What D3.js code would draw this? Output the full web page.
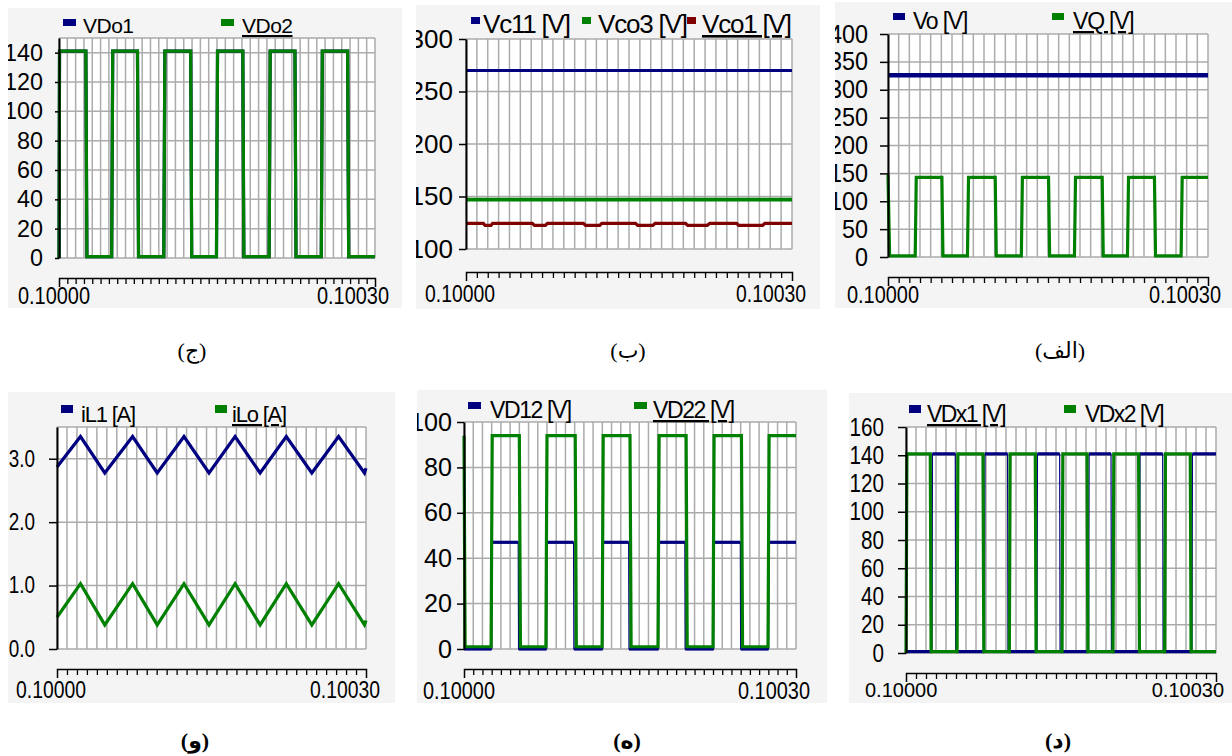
<!DOCTYPE html>
<html>
<head>
<meta charset="utf-8">
<script src="https://cdn.jsdelivr.net/npm/d3@7"></script>
<style>
  body { margin: 0; background: #fff; }
  svg { display: block; }
  text { font-family: "Liberation Sans", Arial, sans-serif; fill: #000; }
  .cap { font-family: "Liberation Serif", "DejaVu Serif", "DejaVu Sans", serif; }
</style>
</head>
<body>
<svg id="fig" width="1232" height="756"></svg>
<script>
// time axis in microseconds after t = 0.1 s
const timeSpan = [0, 300];
const timeLabels = ['0.10000', '0.10030'];

// y tick values
const ticksJ = [0, 20, 40, 60, 80, 100, 120, 140];
const ticksB = [100, 150, 200, 250, 300];
const ticksA = [0, 50, 100, 150, 200, 250, 300, 350, 400];
const ticksW = [0, 1, 2, 3];
const ticksH = [0, 20, 40, 60, 80, 100];
const ticksD = [0, 20, 40, 60, 80, 100, 120, 140, 160];

// (ج) diode voltages
const vdo1 = [[0,0],[0.5,141],[25.5,141],[26.5,1],[50,1],[51,141],[74.5,141],[75.5,1],[99.5,1],[100.5,141],[125,141],[126,1],[149.5,1],[150.5,141],[174.5,141],[175.5,1],[199.5,1],[200.5,141],[224,141],[225,1],[249,1],[250,141],[274,141],[275,1],[300,1]];
const vdo2 = [[0,0],[0.5,141],[25.5,141],[26.5,1],[50,1],[51,141],[74.5,141],[75.5,1],[99.5,1],[100.5,141],[125,141],[126,1],[149.5,1],[150.5,141],[174.5,141],[175.5,1],[199.5,1],[200.5,141],[224,141],[225,1],[249,1],[250,141],[274,141],[275,1],[300,1]];

// (ب) capacitor voltages
const vc11 = [[0,270],[300,270]];
const vco3 = [[0,147],[300,147]];
const vco1 = [[0,124.5],[16,124.5],[17.5,122.5],[23,122.5],[24.5,124.5],[61,124.5],[63,122.5],[73,122.5],[75,124.5],[108,124.5],[110,122.5],[123,122.5],[125,124.5],[156,124.5],[158,122.5],[172,122.5],[174,124.5],[202,124.5],[204,122.5],[222,122.5],[224.5,124.5],[249,124.5],[251,122.5],[273,122.5],[275,124.5],[300,124.5]];

// (الف) output and switch voltage
const vo = [[0,326],[300,326]];
const vq = [[0,148],[1.5,2],[25.5,2],[26.5,143],[50.5,143],[51.5,2],[74.5,2],[75.5,143],[100.5,143],[101.5,2],[125,2],[126,143],[150.5,143],[151.5,2],[174.8,2],[175.8,143],[200.8,143],[201.8,2],[224.5,2],[225.5,143],[249.8,143],[250.8,2],[274.8,2],[275.8,143],[300,143]];

// (و) inductor currents
const il1 = [[0,2.87],[22.8,3.35],[46.4,2.775],[73.4,3.35],[97.3,2.775],[123.3,3.35],[147.6,2.775],[172.9,3.35],[197.2,2.775],[222.6,3.35],[247.4,2.775],[273.4,3.35],[298.5,2.775],[300,2.85]];
const ilo = [[0,0.5],[22.8,1.03],[46.4,0.38],[73.4,1.03],[97.3,0.38],[123.3,1.03],[147.6,0.38],[172.9,1.03],[197.2,0.38],[222.6,1.03],[247.4,0.38],[273.4,1.03],[298.5,0.38],[300,0.45]];

// (ه) diode voltages
const vd12 = [[0,0],[25,0],[25.5,47],[49,47],[49.3,0],[74.6,0],[75.1,47],[99,47],[99.3,0],[125.3,0],[125.8,47],[148.8,47],[149.1,0],[175.8,0],[176.3,47],[199.6,47],[199.9,0],[225.6,0],[226.1,47],[249.7,47],[250,0],[275.2,0],[275.7,47],[300,47]];
const vd22 = [[0,94],[1,1],[24.5,1],[25.5,94],[50,94],[51,1],[74,1],[75,94],[100.5,94],[101.5,1],[124.8,1],[125.8,94],[150,94],[151,1],[175.3,1],[176.3,94],[200.7,94],[201.7,1],[225,1],[226,94],[250.7,94],[251.7,1],[274.7,1],[275.7,94],[300,94]];

// (د) diode voltages
const vdx1 = [[0,1],[25.2,1],[25.6,141],[47.7,141],[48.1,1],[76,1],[76.4,141],[98.3,141],[98.7,1],[126.8,1],[127.2,141],[148.7,141],[149.1,1],[176.8,1],[177.2,141],[198.4,141],[198.8,1],[226.1,1],[226.5,141],[248.4,141],[248.8,1],[276.8,1],[277.2,141],[300,141]];
const vdx2 = [[0,0],[0.9,141],[23.5,141],[24.3,1],[49.4,1],[50.2,141],[74.5,141],[75.3,1],[100,1],[100.8,141],[125.1,141],[125.9,1],[151,1],[151.8,141],[175.2,141],[176,1],[200.3,1],[201.1,141],[225.1,141],[225.9,1],[250.3,1],[251.1,141],[275.1,141],[275.9,1],[300,1]];

const NAVY = '#000080', GREEN = '#008000', MAROON = '#800000';
const GRID = '#ababab';

const panels = [
  { box: [8, 8, 402, 308], plot: [59, 38, 375, 258], yDomain: [0, 150], ticks: ticksJ, fmt: d3.format('d'),
    div: 38, barY: 278, labY: 304, fs: 23, adv: 13, xw: 72, lfs: 21, lls: -0.5, gap: 16, tick: 4, xr: 14,
    leg: { y: 19, h: 7, w: 13, ty: 33 },
    series: [{ name: 'VDo1', data: vdo1, color: NAVY, mx: 63, tx: 83 },
             { name: 'VDo2', data: vdo2, color: GREEN, mx: 221, tx: 242, u: true }],
    caption: '(ج)', cx: 192, cy: 358, bold: false },
  { box: [416, 5, 820, 309], plot: [466, 39, 792, 249], yDomain: [100, 300], ticks: ticksB, fmt: d3.format('d'),
    div: 30, barY: 272, labY: 302, fs: 25, adv: 14.5, xw: 70, lfs: 26, lls: -1.2, gap: 13, tick: 7, xr: 14,
    leg: { y: 17, h: 7, w: 9, ty: 33 },
    series: [{ name: 'Vc11 [V]', data: vc11, color: NAVY, mx: 471, tx: 483 },
             { name: 'Vco3 [V]', data: vco3, color: GREEN, mx: 582, tx: 598, w: 3.8 },
             { name: 'Vco1 [V]', data: vco1, color: MAROON, mx: 687, tx: 702, u: true }],
    caption: '(ب)', cx: 628, cy: 358, bold: false },
  { box: [835, 2, 1232, 308], plot: [888, 34, 1208, 257], yDomain: [0, 400], ticks: ticksA, fmt: d3.format('d'),
    div: 30, barY: 277, labY: 303, fs: 25, adv: 13, xw: 72, lfs: 23, lls: -1.2, gap: 20, tick: 8, xr: 13,
    leg: { y: 13, h: 7, w: 12, ty: 29 },
    series: [{ name: 'Vo [V]', data: vo, color: NAVY, mx: 893, tx: 913, w: 4.5 },
             { name: 'VQ [V]', data: vq, color: GREEN, mx: 1052, tx: 1073, u: true }],
    caption: '(الف)', cx: 1060, cy: 358, bold: false },
  { box: [8, 392, 395, 703], plot: [57, 427, 366, 649], yDomain: [0, 3.5], ticks: ticksW, fmt: d3.format('.1f'),
    div: 31, barY: 669, labY: 698, fs: 23, adv: 10.5, xw: 70, lfs: 22, lls: -1.2, gap: 22, tick: 8, xr: 14,
    leg: { y: 405, h: 8, w: 12, ty: 422 },
    series: [{ name: 'iL1 [A]', data: il1, color: NAVY, mx: 61, tx: 81 },
             { name: 'iLo [A]', data: ilo, color: GREEN, mx: 215, tx: 232, u: true }],
    caption: '(و)', cx: 195, cy: 748, bold: true },
  { box: [417, 390, 827, 703], plot: [464, 422, 796, 649], yDomain: [0, 100], ticks: ticksH, fmt: d3.format('d'),
    div: 36, barY: 669, labY: 699, fs: 25, adv: 14, xw: 72, lfs: 23, lls: -1.4, gap: 12, tick: 7, xr: 14,
    leg: { y: 402, h: 7, w: 13, ty: 418 },
    series: [{ name: 'VD12 [V]', data: vd12, color: NAVY, mx: 468, tx: 490, edge: 1.2 },
             { name: 'VD22 [V]', data: vd22, color: GREEN, mx: 634, tx: 653, u: true }],
    caption: '(ه)', cx: 627, cy: 748, bold: true },
  { box: [849, 393, 1232, 703], plot: [906, 427, 1216, 653], yDomain: [0, 160], ticks: ticksD, fmt: d3.format('d'),
    div: 31, barY: 673, labY: 697, fs: 25, adv: 11.5, xw: 70, xfs: 20, lfs: 23, lls: -1.6, gap: 22, tick: 8, xr: 8,
    leg: { y: 405, h: 8, w: 12, ty: 422 },
    series: [{ name: 'VDx1 [V]', data: vdx1, color: NAVY, mx: 909, tx: 927, u: true, edge: 1.2 },
             { name: 'VDx2 [V]', data: vdx2, color: GREEN, mx: 1064, tx: 1085 }],
    caption: '(د)', cx: 1058, cy: 748, bold: true }
];

// squeezed numeric labels, like the exported plot
const labelWidth = (s, adv) => [...s].reduce((w, c) => w + (c === '.' ? adv * 0.5 : adv), 0);

const svg = d3.select('#fig');
const defs = svg.append('defs');

panels.forEach((p, i) => {
  const [bx0, by0, bx1, by1] = p.box;
  const [x0, y0, x1, y1] = p.plot;

  defs.append('clipPath').attr('id', `clip${i}`)
    .append('rect').attr('x', bx0).attr('y', by0).attr('width', bx1 - bx0).attr('height', by1 - by0);

  const g = svg.append('g').attr('clip-path', `url(#clip${i})`);
  g.append('rect').attr('x', bx0).attr('y', by0).attr('width', bx1 - bx0).attr('height', by1 - by0)
    .attr('fill', '#f4f4f4');

  const x = d3.scaleLinear().domain(timeSpan).range([x0, x1]);
  const y = d3.scaleLinear().domain(p.yDomain).range([y1, y0]);

  g.append('rect').attr('x', x0).attr('y', y0).attr('width', x1 - x0).attr('height', y1 - y0).attr('fill', '#fff');

  const vGrid = d3.range(p.div + 1).map((k) => timeSpan[0] + k * (timeSpan[1] - timeSpan[0]) / p.div);
  const hGrid = Array.from(new Set([...p.ticks, p.yDomain[1]]));

  g.append('g').selectAll('line').data(vGrid).join('line')
    .attr('x1', (d) => x(d)).attr('x2', (d) => x(d)).attr('y1', y0).attr('y2', y1)
    .attr('stroke', GRID).attr('stroke-width', 1.5);
  g.append('g').selectAll('line').data(hGrid).join('line')
    .attr('x1', x0).attr('x2', x1).attr('y1', (d) => y(d)).attr('y2', (d) => y(d))
    .attr('stroke', GRID).attr('stroke-width', 1.5);

  const line = d3.line().x((d) => x(d[0])).y((d) => y(d[1]));
  p.series.forEach((s) => {
    const w = s.w || 3.2;
    if (s.edge) {
      // thin switching edges, thick flat levels
      g.append('path').datum(s.data).attr('d', line)
        .attr('fill', 'none').attr('stroke', s.color).attr('stroke-width', s.edge);
      const flats = d3.pairs(s.data).filter(([a, b]) => a[1] === b[1]);
      g.append('g').selectAll('line').data(flats).join('line')
        .attr('x1', (d) => x(d[0][0])).attr('x2', (d) => x(d[1][0]))
        .attr('y1', (d) => y(d[0][1])).attr('y2', (d) => y(d[1][1]))
        .attr('stroke', s.color).attr('stroke-width', w);
    } else {
      g.append('path').datum(s.data).attr('d', line)
        .attr('fill', 'none').attr('stroke', s.color).attr('stroke-width', w)
        .attr('stroke-linejoin', 'miter');
    }
  });

  // y axis
  const yAxis = g.append('g').attr('transform', `translate(${x0},0)`)
    .call(d3.axisLeft(y).tickValues(p.ticks).tickFormat(p.fmt)
      .tickSize(p.tick).tickSizeOuter(0).tickPadding(p.gap - p.tick));
  yAxis.select('.domain').attr('stroke', '#000').attr('stroke-width', 2);
  yAxis.selectAll('.tick line').attr('stroke', '#000').attr('stroke-width', 1.5);
  yAxis.selectAll('text')
    .attr('font-size', p.fs)
    .attr('font-family', '"Liberation Sans", Arial, sans-serif').attr('fill', '#000')
    .attr('lengthAdjust', 'spacingAndGlyphs')
    .attr('textLength', function () { return labelWidth(this.textContent, p.adv); });

  // time tick bar
  const xAxis = g.append('g').attr('transform', `translate(0,${p.barY})`)
    .call(d3.axisBottom(x).tickValues(vGrid.slice(1, -1)).tickFormat('').tickSize(6).tickSizeOuter(9));
  xAxis.select('.domain').attr('stroke', '#000').attr('stroke-width', 1.5);
  xAxis.selectAll('.tick line').attr('stroke', '#000').attr('stroke-width', 1.3);

  const timeText = (sel) => {
    if (p.xfs) return sel.attr('font-size', p.xfs);
    return sel.attr('font-size', 23).attr('lengthAdjust', 'spacingAndGlyphs').attr('textLength', p.xw);
  };
  g.append('text').attr('x', x(timeSpan[0]) - 41).attr('y', p.labY)
    .call(timeText).text(timeLabels[0]);
  g.append('text').attr('x', x(timeSpan[1]) + p.xr).attr('y', p.labY).attr('text-anchor', 'end')
    .call(timeText).text(timeLabels[1]);

  // legend
  p.series.forEach((s) => {
    g.append('rect').attr('x', s.mx).attr('y', p.leg.y).attr('width', p.leg.w).attr('height', p.leg.h)
      .attr('fill', s.color);
    g.append('text').attr('x', s.tx).attr('y', p.leg.ty)
      .attr('font-size', p.lfs).attr('letter-spacing', p.lls)
      .style('text-decoration', s.u ? 'underline' : 'none')
      .text(s.name);
  });

  svg.append('text').attr('class', 'cap').attr('x', p.cx).attr('y', p.cy)
    .attr('text-anchor', 'middle').attr('font-size', 22)
    .attr('font-weight', p.bold ? 'bold' : 'normal')
    .text(p.caption);
});
</script>
</body>
</html>
